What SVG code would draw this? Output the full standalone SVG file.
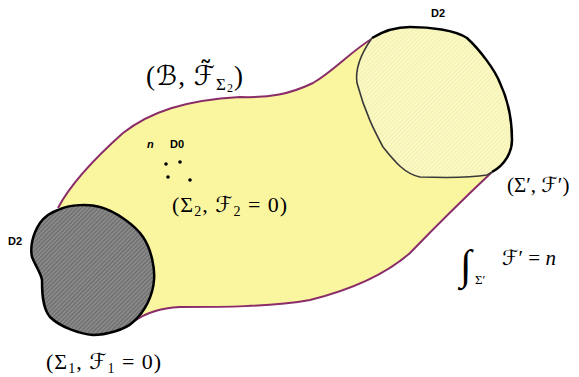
<svg xmlns="http://www.w3.org/2000/svg" width="579" height="377" viewBox="0 0 579 377">
<defs>
<pattern id="hatchDark" width="3" height="3" patternUnits="userSpaceOnUse" patternTransform="rotate(45)">
<rect width="3" height="3" fill="#8c8c8c"/>
<rect width="1.2" height="3" fill="#6a6a6a"/>
</pattern>
<pattern id="hatchLight" width="3" height="3" patternUnits="userSpaceOnUse" patternTransform="rotate(45)">
<rect width="3" height="3" fill="#fbf9c4"/>
<rect width="1" height="3" fill="#f3efb0"/>
</pattern>
<style>
.math{font-family:"Liberation Serif","DejaVu Serif",serif;fill:#000}
.scr{font-family:"DejaVu Sans","DejaVu Serif",sans-serif;font-style:normal}
.lbl{font-family:"Liberation Sans","DejaVu Sans",sans-serif;font-weight:bold;font-size:11px;fill:#000}
.edge{fill:none;stroke:#8a2c68;stroke-width:2;stroke-linejoin:round}
</style>
</defs>
<rect width="579" height="377" fill="#fff"/>
<g id="body">
<path d="M58,208 C70,185 95,158 123,133 C150,112 185,100 240,97 C270,98 290,94 313,83 C335,70 350,52 373,38 L492,172 C475,188 440,222 410,253 C385,275 350,290 310,300 C270,307 220,307 180,307 C160,308 145,313 133,322 Z" fill="#faf6a0"/>
<path class="edge" d="M58,208 C70,185 95,158 123,133 C150,112 185,100 240,97 C270,98 290,94 313,83 C335,70 350,52 373,38"/>
<path class="edge" d="M492,172 C475,188 440,222 410,253 C385,275 350,290 310,300 C270,307 220,307 180,307 C160,308 145,313 133,322"/>
</g>
<g id="disk-right">
<path d="M372,38 C385,30 400,27 410,27 C430,27 455,30 467,38 C480,50 495,70 500,83 C508,100 512,120 512,140 C512,152 505,165 492,172 L487,175 C470,178 450,178 420,177 C405,174 395,162 383,147 C375,132 365,113 357,83 C355,70 360,55 372,38 Z" fill="url(#hatchLight)"/>
<path d="M492,172 L487,175 C470,178 450,178 420,177 C405,174 395,162 383,147 C375,132 365,113 357,83 C355,70 360,55 372,38" fill="none" stroke="#3a3a3a" stroke-width="1.6"/>
<path d="M372,38 C385,30 400,27 410,27 C430,27 455,30 467,38 C480,50 495,70 500,83 C508,100 512,120 512,140 C512,152 505,165 492,172" fill="none" stroke="#000" stroke-width="2.5"/>
</g>
<g id="disk-left">
<path d="M58,210 C70,204 90,204 100,207 C115,211 135,225 143,237 C152,250 155,270 154,280 C153,295 145,312 133,322 C125,330 105,335 93,335 C80,334 60,327 50,317 C42,308 42,290 42,280 C41,273 35,265 32,257 C30,248 32,235 40,223 C45,216 52,212 58,210 Z" fill="url(#hatchDark)" stroke="#000" stroke-width="2.5"/>
</g>
<g id="d0-points">
<circle cx="166" cy="164" r="1.8"/>
<circle cx="180" cy="162" r="1.8"/>
<circle cx="168" cy="177" r="1.8"/>
<circle cx="190" cy="180" r="1.8"/>
</g>
<g id="labels">
<text class="lbl" x="431" y="17">D2</text>
<text class="lbl" x="8" y="245">D2</text>
<text class="lbl" x="147" y="148" font-style="italic">n</text>
<text class="lbl" x="170" y="148">D0</text>
<text class="math" x="146" y="85" font-size="27" letter-spacing="1">(<tspan class="scr">ℬ</tspan>, <tspan class="scr">ℱ̃</tspan><tspan font-size="17" dy="5">Σ</tspan><tspan font-size="12" dy="2">2</tspan><tspan dy="-7">)</tspan></text>
<text class="math" x="172" y="212" font-size="22" letter-spacing="1">(Σ<tspan font-size="14" dy="4">2</tspan><tspan dy="-4">, </tspan><tspan class="scr">ℱ</tspan><tspan font-size="14" dy="4">2</tspan><tspan dy="-4"> = 0)</tspan></text>
<text class="math" x="46" y="369" font-size="22" letter-spacing="1">(Σ<tspan font-size="14" dy="4">1</tspan><tspan dy="-4">, </tspan><tspan class="scr">ℱ</tspan><tspan font-size="14" dy="4">1</tspan><tspan dy="-4"> = 0)</tspan></text>
<text class="math" x="507" y="192" font-size="21">(Σ′, <tspan class="scr">ℱ</tspan>′)</text>
<text class="math" x="460" y="279" font-size="42">∫</text>
<text class="math" x="475" y="284" font-size="13">Σ′</text>
<text class="math" x="502" y="265" font-size="21"><tspan class="scr">ℱ</tspan>′ = <tspan font-style="italic">n</tspan></text>
</g>
</svg>
